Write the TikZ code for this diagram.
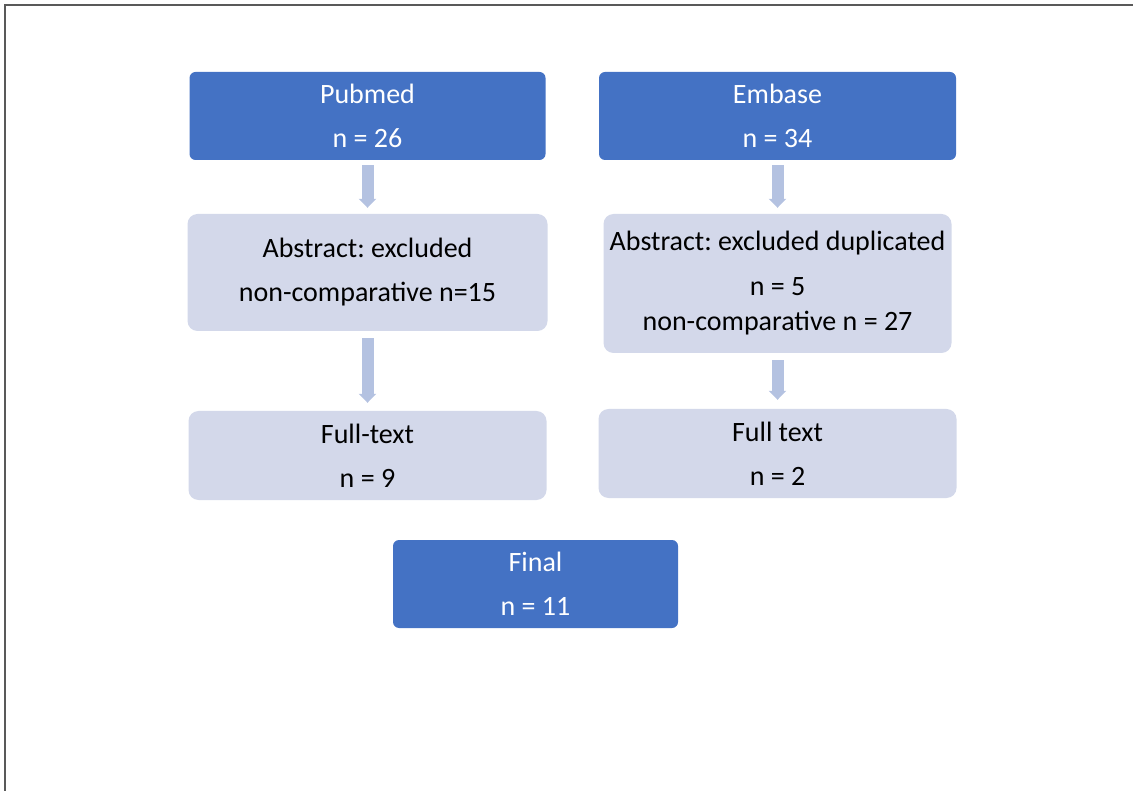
\documentclass[tikz,border=0pt]{standalone}
\usepackage{fontspec}
\setmainfont{Carlito}
\usepackage{tikz}
\usetikzlibrary{arrows.meta}
\definecolor{dbblue}{HTML}{4472C4}
\definecolor{steplight}{HTML}{D3D8EA}
\definecolor{arrowblue}{HTML}{B4C2E1}
\definecolor{framegray}{HTML}{595959}
\frenchspacing
\tikzset{
  box/.style = {align=center, inner sep=0pt, text centered,
    font=\fontsize{28}{35}\selectfont},% common box
  dbbox/.style = {box, fill=dbblue, text=white, rounded corners=6pt,
    minimum height=88pt},% database / final box
  stepbox/.style = {box, fill=steplight, text=black,
    rounded corners=10pt},% screening step box
  fatarrow/.style = {draw=arrowblue, line width=12pt,
    -{Triangle[length=9pt,width=17pt]}}% thick block arrow
}

\begin{document}
\begin{tikzpicture}[x=1pt, y=-1pt]
  \useasboundingbox (0,0) rectangle (1133,791);
  % frame
  \coordinate (corner) at (5,5);
  \draw[framegray, line width=2pt] (1133,5) -- (corner) -- (5,791);
  % sources
  \node [dbbox, minimum width=356pt] (pubmed) at (367.5,116) {Pubmed\\[9pt]n = 26};
  \node [dbbox, minimum width=357pt] (embase) at (777.5,116) {Embase\\[9pt]n = 34};
  % abstract screening
  \node [stepbox, minimum width=360pt, minimum height=117pt] (abspub) at (367.5,272.5)
    {Abstract: excluded\\[9pt]non-comparative n=15};
  \node [stepbox, minimum width=348pt, minimum height=139pt] (absemb) at (777.5,283.5)
    {Abstract: excluded duplicated\\[10pt]n = 5\\non-comparative n = 27};
  % full text
  \node [stepbox, minimum width=358pt, minimum height=89pt] (ftpub) at (367.5,455.5)
    {Full-text\\[9pt]n = 9};
  \node [stepbox, minimum width=358pt, minimum height=89pt] (ftemb) at (777.5,453.5)
    {Full text\\[9pt]n = 2};
  % result
  \node [dbbox, minimum width=285pt] (final) at (535.5,584) {Final\\[9pt]n = 11};
  % arrows
  \draw[fatarrow] ([yshift=-5pt]pubmed.south) -- ([yshift=6pt]abspub.north);
  \draw[fatarrow] ([yshift=-5pt]embase.south) -- ([yshift=6pt]absemb.north);
  \draw[fatarrow] ([yshift=-7pt]abspub.south) -- ([yshift=8pt]ftpub.north);
  \draw[fatarrow] ([yshift=-7pt]absemb.south) -- ([yshift=9pt]ftemb.north);
\end{tikzpicture}
\end{document}
